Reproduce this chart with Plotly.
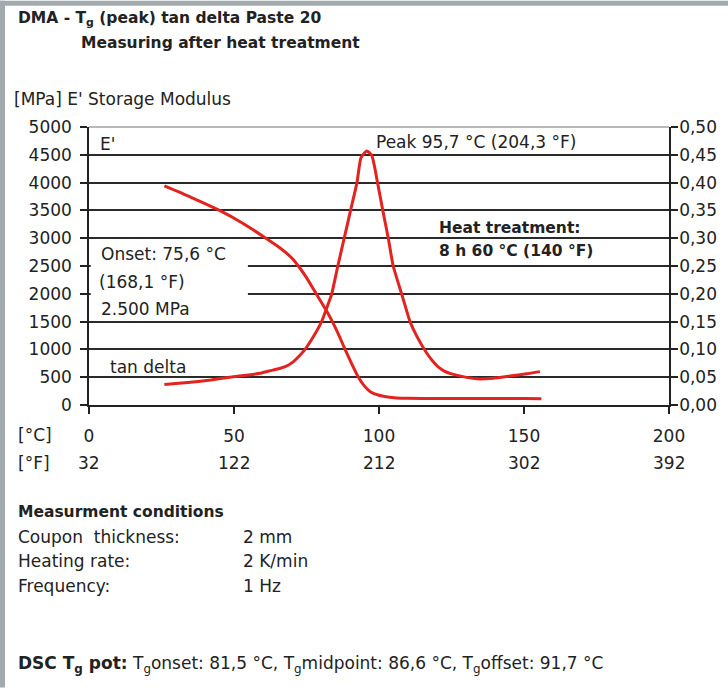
import plotly.graph_objects as go

# ---- data ----
temp_e = [26, 35, 45, 53, 61, 66, 70, 72.2, 75, 78, 81.6, 84.3, 86.3, 88.3, 90.6, 92.9, 95, 97, 100, 103, 106, 110, 120, 130, 140, 150, 156]
e_mod = [3940, 3740, 3500, 3270, 3000, 2820, 2640, 2500, 2290, 2030, 1720, 1460, 1240, 1000, 740, 500, 340, 240, 175, 145, 128, 120, 118, 117, 116, 115, 114]

temp_t = [26, 35, 42, 48.6, 55, 59, 62, 66, 68.5, 70.5, 72.5, 74.5, 77.5, 80.2, 82, 83.7, 85.8, 88.0, 90.2, 92.4, 93.8, 95.8, 97.5, 99.5, 101.3, 103.2, 104.9, 107.8, 110.7, 113.2, 116.5, 118.5, 120.5, 122.5, 125, 129, 133.7, 139.4, 145.2, 150.9, 155.5]
tan_d = [0.037, 0.041, 0.045, 0.050, 0.054, 0.057, 0.061, 0.066, 0.071, 0.078, 0.088, 0.100, 0.124, 0.150, 0.175, 0.200, 0.250, 0.300, 0.350, 0.400, 0.445, 0.457, 0.449, 0.400, 0.350, 0.300, 0.250, 0.200, 0.150, 0.122, 0.093, 0.079, 0.068, 0.061, 0.056, 0.051, 0.047, 0.048, 0.052, 0.056, 0.060]

celsius_ticks = [0, 50, 100, 150, 200]
fahrenheit_labels = ["32", "122", "212", "302", "392"]
left_ticks = [0, 500, 1000, 1500, 2000, 2500, 3000, 3500, 4000, 4500, 5000]
right_ticks = [0, 0.05, 0.10, 0.15, 0.20, 0.25, 0.30, 0.35, 0.40, 0.45, 0.50]
right_labels = ["0,00", "0,05", "0,10", "0,15", "0,20", "0,25", "0,30", "0,35", "0,40", "0,45", "0,50"]

conditions = ["Coupon  thickness:", "Heating rate:", "Frequency:"]
condition_values = ["2 mm", "2 K/min", "1 Hz"]

# ---- layout helpers ----
W, H = 728, 688
L, R, T, B = 89, 669, 126.5, 405
def px(x):
    return (x - L) / (R - L)
def py(y):
    return (B - y) / (B - T)

FONT = "DejaVu Sans, Arial, sans-serif"
TXT = "#222222"
RED = "#e3231f"
FS = 17
FB = 15.5

fig = go.Figure()
fig.add_trace(go.Scatter(x=temp_e, y=e_mod, mode="lines", line=dict(color=RED, width=3, shape="spline", smoothing=0.5),
                         name="E'", yaxis="y", hoverinfo="skip"))
fig.add_trace(go.Scatter(x=temp_t, y=tan_d, mode="lines", line=dict(color=RED, width=3, shape="spline", smoothing=0.5),
                         name="tan delta", yaxis="y2", hoverinfo="skip"))

ann = []
def text(x, y, s, size=FS, bold=False, xanchor="left", xref="paper"):
    if bold:
        s = "<b>" + s + "</b>"
    ann.append(dict(x=x, y=y, xref=xref, yref="paper", text=s, showarrow=False,
                    xanchor=xanchor, yanchor="middle", align="left",
                    font=dict(family=FONT, size=size, color=TXT)))

text(px(16), py(18), "DMA - T<sub>g</sub> (peak) tan delta Paste 20", FB, True)
text(px(79), py(42), "Measuring after heat treatment", FB, True)
text(px(12), py(98), "[MPa] E' Storage Modulus")
text(px(98), py(144), "E'")
text(px(99), py(254), "Onset: 75,6 °C")
text(px(97), py(282), "(168,1 °F)")
text(px(99), py(309), "2.500 MPa")
text(px(108), py(367), "tan delta")
text(px(374), py(142), "Peak 95,7 °C (204,3 °F)")
text(px(437), py(228), "Heat treatment:", FB, True)
text(px(437), py(251), "8 h 60 °C (140 °F)", FB, True)
text(px(16), py(435), "[°C]")
text(px(16), py(463), "[°F]")
for c, f in zip(celsius_ticks, fahrenheit_labels):
    text(c, py(463), f, xanchor="center", xref="x")
text(px(16), py(512), "Measurment conditions", FB, True)
for i, (k, v) in enumerate(zip(conditions, condition_values)):
    text(px(16), py(537 + 24.5 * i), k)
    text(px(241), py(537 + 24.5 * i), v)
text(px(16), py(665), "<b>DSC T<sub>g</sub> pot:</b> T<sub>g</sub>onset: 81,5 °C, T<sub>g</sub>midpoint: 86,6 °C, T<sub>g</sub>offset: 91,7 °C")

shapes = [
    dict(type="rect", xref="x", yref="y", x0=0.6, x1=54.8, y0=1650, y1=2850,
         fillcolor="white", line=dict(width=0), layer="between"),
    dict(type="line", xref="paper", yref="paper", x0=0, x1=1, y0=1, y1=1,
         line=dict(color="#a0a0a0", width=1.5), layer="above"),
    dict(type="rect", xref="paper", yref="paper", x0=px(0), x1=px(5), y0=py(H), y1=py(0),
         fillcolor="#a2aaad", line=dict(width=0), layer="above"),
    dict(type="rect", xref="paper", yref="paper", x0=px(0), x1=px(W), y0=py(5), y1=py(0),
         fillcolor="#a2aaad", line=dict(width=0), layer="above"),
]

fig.update_layout(
    width=W, height=H,
    margin=dict(l=L, r=W - R, t=T, b=H - B, autoexpand=False),
    paper_bgcolor="white", plot_bgcolor="white",
    showlegend=False,
    font=dict(family=FONT, size=FS, color=TXT),
    xaxis=dict(range=[0, 200], tickvals=celsius_ticks, ticktext=[str(c) for c in celsius_ticks],
               ticks="outside", ticklen=7, tickcolor="#222", tickwidth=1.5,
               showline=True, linecolor="#222", linewidth=1.5, showgrid=False, zeroline=False,
               tickfont=dict(family=FONT, size=FS, color=TXT), automargin=False, ticklabelstandoff=8),
    yaxis=dict(range=[0, 5000], tickvals=left_ticks, ticks="outside", ticklen=7, tickcolor="#222", tickwidth=1.5,
               showline=True, linecolor="#222", linewidth=1.5, showgrid=True, gridcolor="#2a2a2a", gridwidth=1.5,
               zeroline=False, tickfont=dict(family=FONT, size=FS, color=TXT), automargin=False,
               ticklabelstandoff=5),
    yaxis2=dict(range=[0, 0.5], tickvals=right_ticks, ticktext=right_labels, overlaying="y", side="right",
                ticks="outside", ticklen=7, tickcolor="#222", tickwidth=1.5,
                showline=True, linecolor="#222", linewidth=1.5, showgrid=False, zeroline=False,
                tickfont=dict(family=FONT, size=FS, color=TXT), automargin=False, ticklabelstandoff=-2),
    annotations=ann,
    shapes=shapes,
)

fig.write_html("out.html", config={"displayModeBar": False},
               post_script="document.body.style.margin='0px';document.body.style.overflow='hidden';")
